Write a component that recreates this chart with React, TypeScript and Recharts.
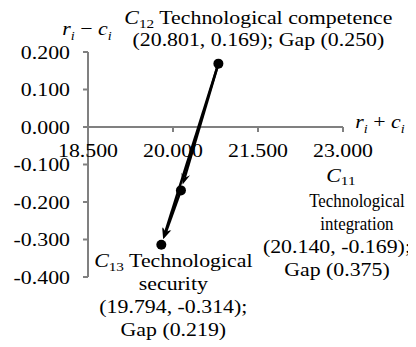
import React from 'react';
import {
  ScatterChart,
  Scatter,
  XAxis,
  YAxis,
  ReferenceLine,
  ReferenceDot,
} from 'recharts';

// Indicators: position = (r_i + c_i, r_i - c_i)
const codes = ['11', '12', '13'];
const sumRC = [20.14, 20.801, 19.794];
const diffRC = [-0.169, 0.169, -0.314];
const gaps = [0.375, 0.25, 0.219];

const xTicks = [18.5, 20.0, 21.5, 23.0];
const yTicks = [-0.4, -0.3, -0.2, -0.1, 0.0, 0.1, 0.2];

// Influence paths between indicators (from index -> to index)
const pathFrom = [1, 1, 0];
const pathTo = [2, 0, 2];

const FONT = "'Liberation Serif', 'Times New Roman', 'DejaVu Serif', serif";
const FS = 19;
const SX = 1.15; // horizontal stretch of all lettering
const AXIS_GREY = '#808080';

const points = codes.map((c, i) => ({ code: c, x: sumRC[i], y: diffRC[i], gap: gaps[i] }));

const coord = (p: { x: number; y: number }) => `(${p.x.toFixed(3)}, ${p.y.toFixed(3)})`;
const gapText = (p: { gap: number }) => `Gap (${p.gap.toFixed(3)})`;

// Stretched text drawn at (x, y)
const T = ({
  x,
  y,
  anchor = 'middle',
  dy,
  sx = SX,
  children,
}: {
  x: number;
  y: number;
  anchor?: 'start' | 'middle' | 'end';
  dy?: string | number;
  sx?: number;
  children: React.ReactNode;
}) => (
  <text
    transform={`translate(${x},${y}) scale(${sx},1)`}
    x={0}
    y={0}
    dy={dy}
    textAnchor={anchor}
    style={{ fontFamily: FONT, fontSize: FS }}
    fill="#000"
  >
    {children}
  </text>
);

const Sub = ({ main, sub, shift = 4 }: { main: string; sub: string; shift?: number }) => (
  <>
    <tspan fontStyle="italic">{main}</tspan>
    <tspan fontSize={FS * 0.7} dy={shift}>
      {sub}
    </tspan>
  </>
);

// Text block beside each indicator: lines given as [dx, dy, content, stretch]
type Line = [number, number, React.ReactNode, number?];

const labelLines = (idx: number): Line[] => {
  const p = points[idx];
  if (idx === 1) {
    return [
      [40, -40, <><Sub main="C" sub={p.code} /><tspan dy={-4}> Technological competence</tspan></>],
      [40, -18, `${coord(p)}; ${gapText(p)}`],
    ];
  }
  if (idx === 2) {
    return [
      [12, 22, <><Sub main="C" sub={p.code} /><tspan dy={-4}> Technological</tspan></>],
      [12, 45, 'security'],
      [12, 68, `${coord(p)};`],
      [12, 91, gapText(p)],
    ];
  }
  return [
    [160, -8, <Sub main="C" sub={p.code} shift={3} />],
    [176, 17, 'Technological', 0.89],
    [176, 40, 'integration', 0.89],
    [156, 63, `${coord(p)};`],
    [156, 86, gapText(p)],
  ];
};

const makeLabelShape = (idx: number) => (props: any) => {
  const { cx, cy } = props;
  return (
    <g>
      {labelLines(idx).map(([dx, dy, content, sx], k) => (
        <T key={k} x={cx + dx} y={cy + dy} sx={sx ?? SX}>
          {content}
        </T>
      ))}
    </g>
  );
};

const makeXTick = (v: number) => (props: any) => {
  const { cx, cy } = props;
  return (
    <g>
      <line x1={cx} y1={cy} x2={cx} y2={cy + 5} stroke={AXIS_GREY} strokeWidth={2} />
      <T x={cx} y={cy + 30}>
        {v.toFixed(3)}
      </T>
    </g>
  );
};

const YTick = (props: any) => {
  const { x, y, payload } = props;
  return (
    <T x={x} y={y} anchor="end" dy="0.355em">
      {Number(payload.value).toFixed(3)}
    </T>
  );
};

const AxisTitle = ({ x, y, op }: { x: number; y: number; op: string }) => (
  <T x={x} y={y}>
    <tspan fontStyle="italic">r</tspan>
    <tspan fontStyle="italic" fontSize={FS * 0.65} dy={5}>i</tspan>
    <tspan dy={-5}>{` ${op} `}</tspan>
    <tspan fontStyle="italic">c</tspan>
    <tspan fontStyle="italic" fontSize={FS * 0.65} dy={5}>i</tspan>
  </T>
);

const yTitle = (props: any) => <AxisTitle x={props.cx - 1} y={props.cy - 17} op="−" />;
const xTitle = (props: any) => <AxisTitle x={props.cx + 37} y={props.cy + 1} op="+" />;

// Arrow from (x1,y1) to (x2,y2), tip stopping just short of the target dot
const arrowShape = (props: any) => {
  const { x1, y1, x2, y2 } = props;
  const dx = x2 - x1;
  const dy = y2 - y1;
  const len = Math.hypot(dx, dy) || 1;
  const ux = dx / len;
  const uy = dy / len;
  const nx = -uy;
  const ny = ux;
  const tipX = x2 - ux * 6;
  const tipY = y2 - uy * 6;
  const headLen = 11;
  const halfW = 4.5;
  const notch = 7;
  const bx = tipX - ux * headLen;
  const by = tipY - uy * headLen;
  const pts = [
    [tipX, tipY],
    [bx + nx * halfW, by + ny * halfW],
    [tipX - ux * notch, tipY - uy * notch],
    [bx - nx * halfW, by - ny * halfW],
  ]
    .map((p) => p.join(','))
    .join(' ');
  return (
    <g>
      <line
        x1={x1}
        y1={y1}
        x2={tipX - ux * notch}
        y2={tipY - uy * notch}
        stroke="#000"
        strokeWidth={2.5}
      />
      <polygon points={pts} fill="#000" />
    </g>
  );
};

const dotShape = (props: any) => <circle cx={props.cx} cy={props.cy} r={5} fill="#000" />;

export default function App() {
  return (
    <div style={{ fontFamily: FONT }}>
      <ScatterChart
        width={408}
        height={339}
        margin={{ top: 44, right: 73, bottom: 70, left: 0 }}
      >
        <XAxis type="number" dataKey="x" domain={[18.5, 23]} ticks={xTicks} hide />
        <YAxis
          type="number"
          dataKey="y"
          domain={[-0.4, 0.2]}
          ticks={yTicks}
          width={80}
          interval={0}
          axisLine={{ stroke: AXIS_GREY, strokeWidth: 2 }}
          tickLine={{ stroke: AXIS_GREY, strokeWidth: 2 }}
          tickSize={5}
          tickMargin={13}
          tick={<YTick />}
        />
        <ReferenceLine y={0} stroke={AXIS_GREY} strokeWidth={2} />
        {xTicks.map((v) => (
          <ReferenceDot key={`xt${v}`} x={v} y={0} r={0} ifOverflow="visible" shape={makeXTick(v)} />
        ))}
        <ReferenceDot x={xTicks[0]} y={yTicks[yTicks.length - 1]} r={0} ifOverflow="visible" shape={yTitle} />
        <ReferenceDot x={xTicks[xTicks.length - 1]} y={0} r={0} ifOverflow="visible" shape={xTitle} />
        {pathFrom.map((f, k) => (
          <ReferenceLine
            key={`path${k}`}
            segment={[
              { x: sumRC[f], y: diffRC[f] },
              { x: sumRC[pathTo[k]], y: diffRC[pathTo[k]] },
            ]}
            ifOverflow="visible"
            shape={arrowShape}
          />
        ))}
        <Scatter data={points} isAnimationActive={false} shape={dotShape} />
        {points.map((p, i) => (
          <ReferenceDot
            key={`lab${i}`}
            x={p.x}
            y={p.y}
            r={0}
            ifOverflow="visible"
            shape={makeLabelShape(i)}
          />
        ))}
      </ScatterChart>
    </div>
  );
}
